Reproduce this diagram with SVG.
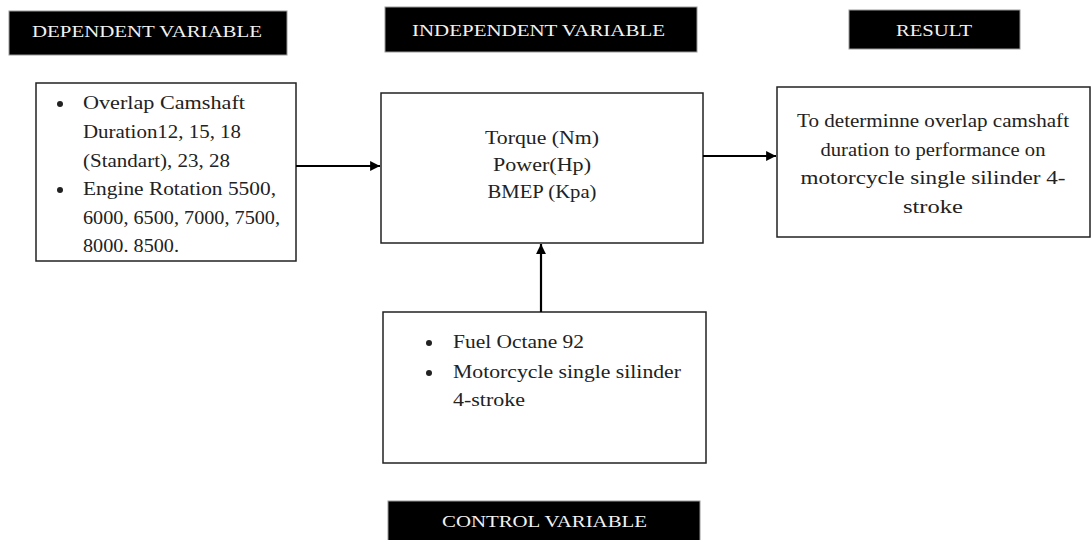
<svg xmlns="http://www.w3.org/2000/svg" width="1092" height="540" viewBox="0 0 1092 540">
<style>
.lbl{fill:#000;stroke:#999;stroke-width:1}
.lt{font-family:"Liberation Serif",serif;font-size:17px;fill:#f2f2f2}
.box{fill:#fff;stroke:#222;stroke-width:1.5}
.t{font-family:"Liberation Serif",serif;font-size:18px;fill:#222}
.c{text-anchor:middle}
.conn{stroke:#000;stroke-width:2.2;fill:none}
.b{fill:#222}
</style>
<defs>
<marker id="ah" viewBox="0 0 10 10" refX="10" refY="5" markerWidth="4.5" markerHeight="4.5" orient="auto" markerUnits="strokeWidth">
<path d="M0,0 L10,5 L0,10 z" fill="#000"/>
</marker>
</defs>
<g id="label-dependent">
<rect class="lbl" x="9" y="11" width="278" height="44"/>
<text class="lt" x="32" y="37" textLength="230" lengthAdjust="spacingAndGlyphs">DEPENDENT VARIABLE</text>
</g>
<g id="label-independent">
<rect class="lbl" x="385" y="7" width="312" height="45"/>
<text class="lt" x="412" y="36" textLength="253" lengthAdjust="spacingAndGlyphs">INDEPENDENT VARIABLE</text>
</g>
<g id="label-result">
<rect class="lbl" x="849" y="10" width="171" height="39"/>
<text class="lt" x="896" y="36" textLength="76" lengthAdjust="spacingAndGlyphs">RESULT</text>
</g>
<g id="label-control">
<rect class="lbl" x="388" y="501" width="312" height="45"/>
<text class="lt" x="442" y="527" textLength="205" lengthAdjust="spacingAndGlyphs">CONTROL VARIABLE</text>
</g>
<g id="dependent">
<rect class="box" x="36" y="83" width="260" height="178"/>
<circle class="b" cx="60" cy="104" r="3"/>
<circle class="b" cx="60" cy="190" r="3"/>
<text class="t" x="83" y="109" textLength="162" lengthAdjust="spacingAndGlyphs">Overlap Camshaft</text>
<text class="t" x="83" y="138" textLength="158" lengthAdjust="spacingAndGlyphs">Duration12, 15, 18</text>
<text class="t" x="83" y="167" textLength="147" lengthAdjust="spacingAndGlyphs">(Standart), 23, 28</text>
<text class="t" x="83" y="195" textLength="193" lengthAdjust="spacingAndGlyphs">Engine Rotation 5500,</text>
<text class="t" x="83" y="224" textLength="197" lengthAdjust="spacingAndGlyphs">6000, 6500, 7000, 7500,</text>
<text class="t" x="83" y="252" textLength="96" lengthAdjust="spacingAndGlyphs">8000. 8500.</text>
</g>
<g id="independent">
<rect class="box" x="381" y="93" width="322" height="150"/>
<text class="t c" x="542" y="144" textLength="114" lengthAdjust="spacingAndGlyphs">Torque (Nm)</text>
<text class="t c" x="542" y="171" textLength="98" lengthAdjust="spacingAndGlyphs">Power(Hp)</text>
<text class="t c" x="542" y="198" textLength="109" lengthAdjust="spacingAndGlyphs">BMEP (Kpa)</text>
</g>
<g id="result">
<rect class="box" x="777" y="87" width="313" height="150"/>
<text class="t c" x="933" y="127" textLength="272" lengthAdjust="spacingAndGlyphs">To determinne overlap camshaft</text>
<text class="t c" x="933" y="156" textLength="225" lengthAdjust="spacingAndGlyphs">duration to performance on</text>
<text class="t c" x="933" y="184" textLength="265" lengthAdjust="spacingAndGlyphs">motorcycle single silinder 4-</text>
<text class="t c" x="933" y="213" textLength="60" lengthAdjust="spacingAndGlyphs">stroke</text>
</g>
<g id="control">
<rect class="box" x="383" y="312" width="323" height="151"/>
<circle class="b" cx="429" cy="343" r="3"/>
<circle class="b" cx="429" cy="373" r="3"/>
<text class="t" x="453" y="348" textLength="131" lengthAdjust="spacingAndGlyphs">Fuel Octane 92</text>
<text class="t" x="453" y="378" textLength="228" lengthAdjust="spacingAndGlyphs">Motorcycle single silinder</text>
<text class="t" x="453" y="406" textLength="72" lengthAdjust="spacingAndGlyphs">4-stroke</text>
</g>
<g id="connectors">
<line class="conn" x1="296" y1="166" x2="380" y2="166" marker-end="url(#ah)"/>
<line class="conn" x1="703" y1="156" x2="776" y2="156" marker-end="url(#ah)"/>
<line class="conn" x1="541" y1="312" x2="541" y2="244" marker-end="url(#ah)"/>
</g>
</svg>
